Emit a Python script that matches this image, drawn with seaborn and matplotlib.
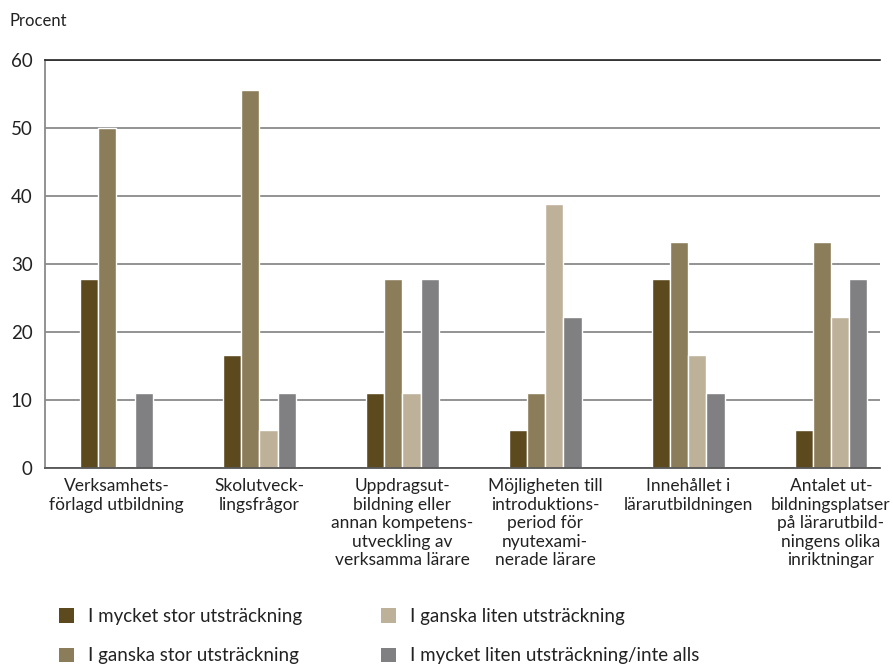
import pandas as pd
import matplotlib.pyplot as plt
import seaborn as sns
from matplotlib.patches import Patch

# Categories (x-axis groups)
categories = [
    "Verksamhets-\nförlagd utbildning",
    "Skolutveck-\nlingsfrågor",
    "Uppdragsut-\nbildning eller\nannan kompetens-\nutveckling av\nverksamma lärare",
    "Möjligheten till\nintroduktions-\nperiod för\nnyutexami-\nnerade lärare",
    "Innehållet i\nlärarutbildningen",
    "Antalet ut-\nbildningsplatser\npå lärarutbild-\nningens olika\ninriktningar",
]

series = [
    "I mycket stor utsträckning",
    "I ganska stor utsträckning",
    "I ganska liten utsträckning",
    "I mycket liten utsträckning/inte alls",
]

# Percent values
mycket_stor = [27.8, 16.7, 11.1, 5.6, 27.8, 5.6]
ganska_stor = [50.0, 55.6, 27.8, 11.1, 33.3, 33.3]
ganska_liten = [0.0, 5.6, 11.1, 38.9, 16.7, 22.2]
mycket_liten = [11.1, 11.1, 27.8, 22.2, 11.1, 27.8]

colors = ["#5c4a1e", "#8c7d5a", "#beb19a", "#808083"]

# Long format for seaborn
rows = []
for name, vals in zip(series, [mycket_stor, ganska_stor, ganska_liten, mycket_liten]):
    for cat, v in zip(categories, vals):
        rows.append({"Kategori": cat, "Svar": name, "Procent": v})
df = pd.DataFrame(rows)

sns.set_style("white")
plt.rcParams["font.family"] = ["Lato", "DejaVu Sans"]

fig = plt.figure(figsize=(8.93, 6.68), dpi=100)
ax = fig.add_axes([0.0504, 0.299, 0.9346, 0.611])

sns.barplot(data=df, x="Kategori", y="Procent", hue="Svar", order=categories,
            hue_order=series, palette=colors, width=0.51, gap=0,
            saturation=1, legend=False, ax=ax)

ax.set_ylim(0, 60)
ax.set_xlim(-0.48, 5.34)
ax.set_yticks(range(0, 61, 10))
ax.set_yticklabels([str(v) for v in range(0, 61, 10)], fontsize=13.5, color="#222222")
ax.yaxis.grid(True, color="#8a8a8a", linewidth=1.3)
ax.set_axisbelow(True)
ax.tick_params(axis="y", length=6, width=1.2, color="#777777", pad=3)

# x labels at group centers, tick marks between groups
ax.tick_params(axis="x", which="major", length=0, pad=7, labelsize=12.5, labelcolor="#222222")
for lab in ax.get_xticklabels():
    lab.set_linespacing(1.2)
ax.set_xticks([i - 0.5 for i in range(6)], minor=True)
ax.tick_params(axis="x", which="minor", length=6, width=1.2, color="#777777")
ax.set_xlabel("")
ax.set_ylabel("")

ax.spines["right"].set_visible(False)
ax.spines["top"].set_color("#222222")
ax.spines["top"].set_linewidth(1.2)
ax.spines["left"].set_color("#8a8a8a")
ax.spines["left"].set_linewidth(1.3)
ax.spines["bottom"].set_color("#555555")
ax.spines["bottom"].set_linewidth(1.3)

fig.text(0.011, 0.968, "Procent", fontsize=12, color="#222222", va="center")

handles = [Patch(facecolor=c, edgecolor="none") for c in colors]
fig.legend(handles, series, loc="lower left", bbox_to_anchor=(0.047, -0.02), ncol=2,
           frameon=False, fontsize=13.5, handlelength=0.8, handleheight=0.8,
           handletextpad=0.75, columnspacing=4.2, labelspacing=1.2,
           labelcolor="#222222")

plt.savefig("out.png", dpi=100)
